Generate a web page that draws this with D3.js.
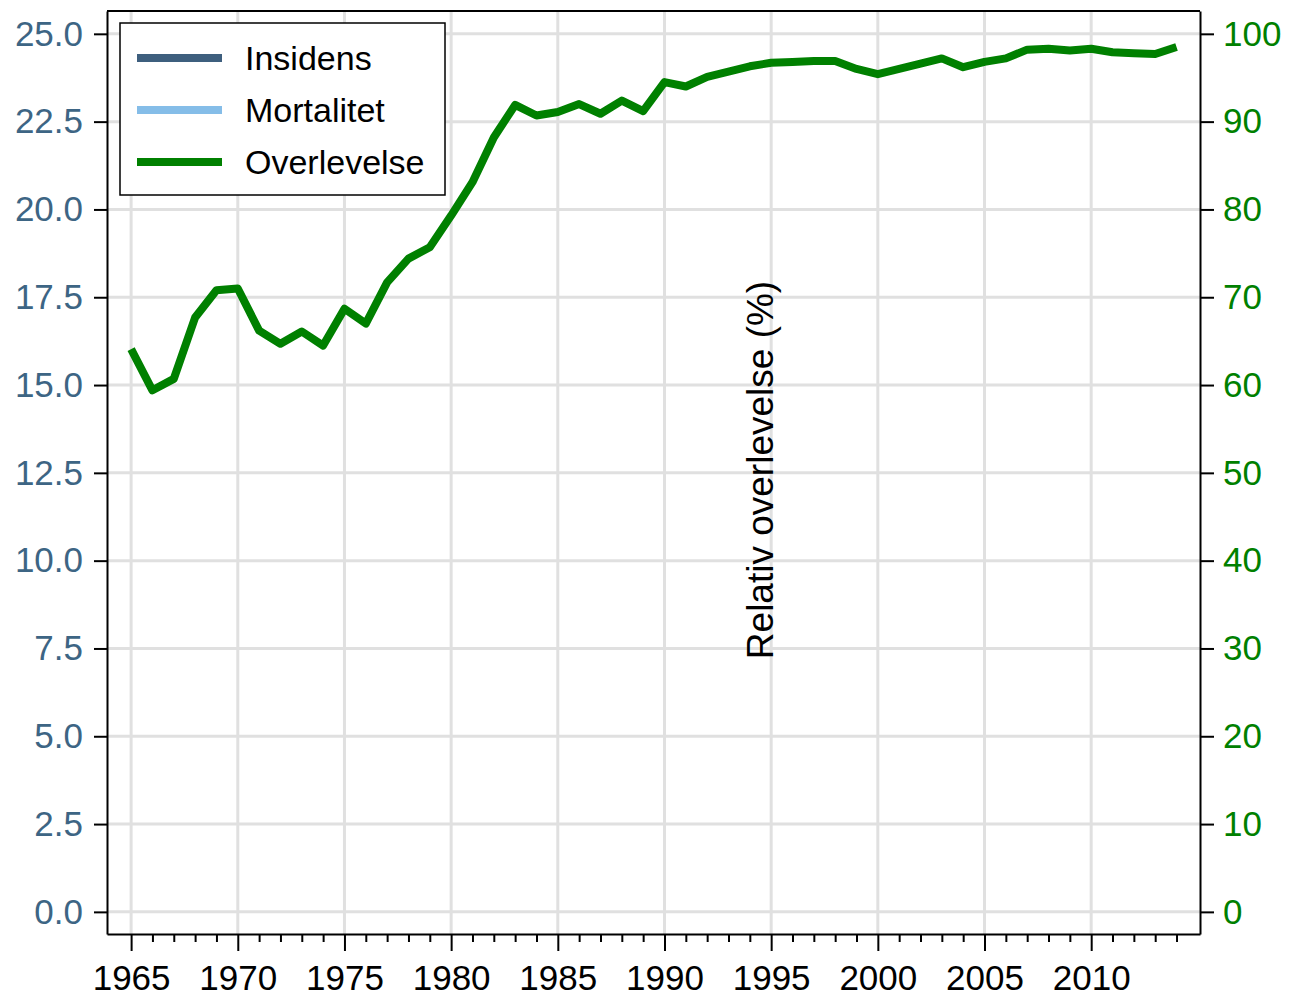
<!DOCTYPE html>
<html lang="en">
    <head>
        <meta charset="utf-8">
        <title>Relativ overlevelse</title>
        <script src="https://d3js.org/d3.v7.min.js"></script>
        <style type="text/css">
         body { margin: 0; background: #fff; }
         text { font-family: "Liberation Sans", Arial, sans-serif; }
        </style>
    </head>
    <body>
        <script>
         // Data
         var years = d3.range(1965, 2015);
         var overlevelse = [64.1, 59.4, 60.7, 67.7, 70.8, 71.0, 66.2, 64.7, 66.1, 64.5,
                            68.7, 67.0, 71.7, 74.4, 75.7, 79.3, 83.1, 88.2, 91.9, 90.7,
                            91.1, 92.0, 90.9, 92.4, 91.2, 94.5, 94.0, 95.1, 95.7, 96.3,
                            96.7, 96.8, 96.9, 96.9, 96.0, 95.4, 96.0, 96.6, 97.2, 96.2,
                            96.8, 97.2, 98.2, 98.3, 98.1, 98.3, 97.9, 97.8, 97.7, 98.5];
         var insidens = [];     // no values drawn in the chart
         var mortalitet = [];   // no values drawn in the chart
         var leftTicks = [0, 2.5, 5, 7.5, 10, 12.5, 15, 17.5, 20, 22.5, 25];
         var rightTicks = [0, 10, 20, 30, 40, 50, 60, 70, 80, 90, 100];
         var yearTicks = [1965, 1970, 1975, 1980, 1985, 1990, 1995, 2000, 2005, 2010];
         var seriesNames = ["Insidens", "Mortalitet", "Overlevelse"];
         var seriesColors = ["#3e5f7e", "#85bde8", "#008000"];

         var width = 1289, height = 999;
         var m = {left: 107, right: 89, top: 11, bottom: 65};
         var iw = width - m.left - m.right, ih = height - m.top - m.bottom;

         var svg = d3.select("body").append("svg")
                     .attr("width", width)
                     .attr("height", height);
         var g = svg.append("g").attr("transform", "translate(" + m.left + "," + m.top + ")");

         var x = d3.scaleLinear().domain([1963.87, 2015.1]).range([0, iw]);
         var yL = d3.scaleLinear().domain([-0.63, 25.65]).range([ih, 0]);
         var yR = d3.scaleLinear().domain([-2.52, 102.6]).range([ih, 0]);

         // grid
         g.selectAll(".hg").data(leftTicks).enter().append("line")
          .attr("x1", 0).attr("x2", iw)
          .attr("y1", function(d) { return yL(d); })
          .attr("y2", function(d) { return yL(d); })
          .attr("stroke", "#e0e0e0").attr("stroke-width", 3);
         g.selectAll(".vg").data(yearTicks).enter().append("line")
          .attr("y1", 0).attr("y2", ih)
          .attr("x1", function(d) { return x(d); })
          .attr("x2", function(d) { return x(d); })
          .attr("stroke", "#e0e0e0").attr("stroke-width", 3);

         // lines
         var line = d3.line()
                      .x(function(d, i) { return x(years[i]); })
                      .y(function(d) { return yR(d); });
         [insidens, mortalitet, overlevelse].forEach(function(s, k) {
             if (!s.length) return;
             g.append("path").datum(s)
              .attr("d", line)
              .attr("fill", "none")
              .attr("stroke", seriesColors[k])
              .attr("stroke-width", 8)
              .attr("stroke-linejoin", "round");
         });

         // axes
         var fs = "35px";
         var axL = g.append("g").call(d3.axisLeft(yL).tickValues(leftTicks)
                     .tickFormat(d3.format(".1f")).tickSizeInner(13).tickSizeOuter(0).tickPadding(11));
         axL.selectAll("text").attr("fill", "#3d6584").style("font-size", fs);
         var axR = g.append("g").attr("transform", "translate(" + iw + ",0)")
                    .call(d3.axisRight(yR).tickValues(rightTicks).tickSizeInner(14)
                    .tickSizeOuter(0).tickPadding(9));
         axR.selectAll("text").attr("fill", "#008000").style("font-size", fs);
         var axB = g.append("g").attr("transform", "translate(0," + ih + ")")
                    .call(d3.axisBottom(x).tickValues(yearTicks).tickFormat(d3.format("d"))
                    .tickSizeInner(17).tickSizeOuter(0).tickPadding(14));
         axB.selectAll("text").attr("fill", "#000").style("font-size", fs);
         g.append("g").attr("transform", "translate(0," + ih + ")")
          .call(d3.axisBottom(x).tickValues(years.filter(function(y) { return y % 5; }))
          .tickFormat("").tickSize(8)).select(".domain").remove();
         g.selectAll(".domain").attr("stroke-width", 2);
         g.selectAll(".tick line").attr("stroke", "#000").attr("stroke-width", 2);
         g.append("line").attr("x1", 0).attr("x2", iw).attr("y1", 0).attr("y2", 0)
          .attr("stroke", "#000").attr("stroke-width", 2);

         // right axis title, drawn inside plot
         g.append("text")
          .attr("transform", "translate(" + (x(1995) + 1.5) + "," + 459 + ") rotate(-90)")
          .attr("text-anchor", "middle")
          .style("font-size", "37px")
          .text("Relativ overlevelse (%)");

         // legend
         var lg = g.append("g").attr("transform", "translate(13,12)");
         lg.append("rect").attr("width", 325).attr("height", 172)
           .attr("fill", "#fff").attr("stroke", "#000").attr("stroke-width", 1.5);
         seriesNames.forEach(function(n, i) {
             var yy = 35 + i * 52;
             lg.append("line").attr("x1", 17).attr("x2", 102).attr("y1", yy).attr("y2", yy)
               .attr("stroke", seriesColors[i]).attr("stroke-width", 8);
             lg.append("text").attr("x", 125).attr("y", yy).attr("dy", "0.35em")
               .style("font-size", "34px").text(n);
         });
        </script>
    </body>
</html>
